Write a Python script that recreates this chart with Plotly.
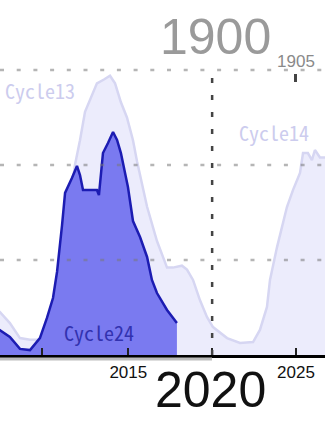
import plotly.graph_objects as go

# ---- data (13-month smoothed sunspot number) ----
c24_years = [2006.75, 2007.35, 2007.94, 2008.54, 2009.14, 2009.73, 2010.15, 2010.51,
             2010.75, 2011.05, 2011.23, 2011.64, 2011.94, 2012.12, 2012.30, 2012.72,
             2013.13, 2013.25, 2013.49, 2013.79, 2014.09, 2014.33, 2014.56, 2014.98,
             2015.28, 2015.70, 2016.12, 2016.41, 2016.71, 2017.31, 2017.90]
c24_values = [16.5, 13.2, 9.5, 3.2, 2.6, 8.9, 19.5, 30.0,
              43.7, 68.4, 85.3, 93.2, 99.5, 94.7, 86.8, 86.8,
              86.8, 84.2, 106.3, 111.6, 117.4, 113.2, 106.3, 88.4,
              70.5, 62.1, 51.6, 39.5, 32.6, 23.7, 16.8]

old_years = [1886.75, 1887.35, 1887.94, 1888.54, 1889.14, 1889.73, 1890.20, 1890.63,
             1891.05, 1891.52, 1891.82, 1892.12, 1892.42, 1893.13, 1893.55, 1893.91,
             1894.21, 1894.56, 1894.92, 1895.28, 1895.52, 1896.12, 1896.71, 1897.31,
             1897.66, 1898.20, 1898.50, 1898.86, 1899.27, 1899.69, 1900.05, 1900.89,
             1901.66, 1902.44, 1902.85, 1903.27, 1903.45, 1903.87, 1904.46, 1904.82,
             1905.24, 1905.42, 1905.71, 1905.95, 1906.13, 1906.43, 1906.73, 1907.2]
old_values = [27.0, 22.6, 16.8, 8.9, 8.0, 8.0, 8.0, 25.0,
              50.0, 80.0, 100.0, 113.0, 128.0, 143.0, 145.0, 147.0,
              143.0, 133.0, 125.0, 113.0, 102.0, 78.0, 60.0, 46.0,
              46.0, 47.0, 45.0, 39.5, 28.9, 20.0, 14.7, 8.9,
              6.3, 6.8, 13.2, 25.3, 39.5, 56.8, 77.9, 86.8,
              95.8, 106.3, 106.3, 102.6, 107.9, 104.0, 104.0, 104.0]

range_new = [2007.35, 2026.73]
year_shift = 120
range_old = [range_new[0] - year_shift, range_new[1] - year_shift]

new_tickvals = [2009.84, 2015, 2020, 2025]
new_ticktext = ["", "2015", "", "2025"]
old_tickvals = [1905]
old_ticktext = ["1905"]
grid_levels = [50, 100, 150]
mark_year = 2020

mono = "Noto Sans Mono CJK JP, DejaVu Sans Mono, monospace"
sans = "Liberation Sans, Arial, sans-serif"

fig = go.Figure()
fig.add_trace(go.Scatter(
    x=old_years, y=old_values, xaxis="x", yaxis="y", mode="lines",
    fill="tozeroy", fillcolor="rgb(236,236,252)",
    line=dict(color="rgb(214,214,242)", width=2.5), hoverinfo="skip"))
fig.add_trace(go.Scatter(
    x=c24_years, y=c24_values, xaxis="x2", yaxis="y", mode="lines",
    fill="tozeroy", fillcolor="rgb(122,122,240)",
    line=dict(color="rgb(28,28,178)", width=2.5), hoverinfo="skip"))

shapes = []
for g in grid_levels:
    shapes.append(dict(type="line", xref="paper", x0=0, x1=1, yref="y", y0=g, y1=g,
                       line=dict(color="rgba(120,120,120,0.55)", width=2.5, dash="4px,12.7px"),
                       layer="above"))
shapes.append(dict(type="line", xref="x2", x0=mark_year, x1=mark_year, yref="y", y0=0, y1=150,
                   line=dict(color="#444444", width=2.5, dash="5px,12px"), layer="above"))
shapes.append(dict(type="line", xref="paper", x0=0, x1=212 / 325, yref="paper",
                   y0=-4 / 355, y1=-4 / 355,
                   line=dict(color="#bdbdbd", width=3), layer="above"))

annotations = [
    dict(text="Cycle13", xref="paper", yref="paper", x=3 / 325, y=(355 - 90) / 355,
         xanchor="left", yanchor="middle", showarrow=False,
         font=dict(family=mono, size=20, color="rgb(204,204,238)")),
    dict(text="Cycle14", xref="paper", yref="paper", x=237 / 325, y=(355 - 133) / 355,
         xanchor="left", yanchor="middle", showarrow=False,
         font=dict(family=mono, size=20, color="rgb(204,204,238)")),
    dict(text="Cycle24", xref="paper", yref="paper", x=62 / 325, y=(355 - 332) / 355,
         xanchor="left", yanchor="middle", showarrow=False,
         font=dict(family=mono, size=20, color="rgb(50,50,175)")),
    dict(text="1900", xref="paper", yref="paper", x=215 / 325, y=(355 - 37) / 355,
         xanchor="center", yanchor="middle", showarrow=False,
         font=dict(family=sans, size=50, color="#9a9a9a")),
    dict(text="2020", xref="paper", yref="paper", x=210 / 325, y=(355 - 390) / 355,
         xanchor="center", yanchor="middle", showarrow=False,
         font=dict(family=sans, size=50, color="#111111")),
]

fig.update_layout(
    width=325, height=421,
    margin=dict(l=0, r=0, t=0, b=66, pad=0),
    paper_bgcolor="white", plot_bgcolor="white",
    showlegend=False,
    xaxis=dict(range=range_old, side="top", anchor="free", position=(355 - 82) / 355,
               tickmode="array", tickvals=old_tickvals, ticktext=old_ticktext,
               ticks="outside", ticklen=8, tickwidth=2.5, tickcolor="#444444",
               tickfont=dict(family=sans, size=17, color="#8a8a8a"),
               showgrid=False, zeroline=False, showline=False, fixedrange=True),
    xaxis2=dict(range=range_new, overlaying="x", side="bottom", anchor="y",
                tickmode="array", tickvals=new_tickvals, ticktext=new_ticktext,
                ticks="inside", ticklen=7, tickwidth=2, tickcolor="#222222",
                tickfont=dict(family=sans, size=17, color="#111111"),
                showgrid=False, zeroline=False, showline=True,
                linecolor="#000000", linewidth=2.5, fixedrange=True),
    yaxis=dict(range=[0, 355 / 1.9], showgrid=False, zeroline=False,
               showticklabels=False, showline=False, ticks="", fixedrange=True),
    shapes=shapes,
    annotations=annotations,
)

fig.write_html(
    "out.html",
    config={"displayModeBar": False},
    post_script="document.body.style.margin='0';document.body.style.overflow='hidden';",
)
